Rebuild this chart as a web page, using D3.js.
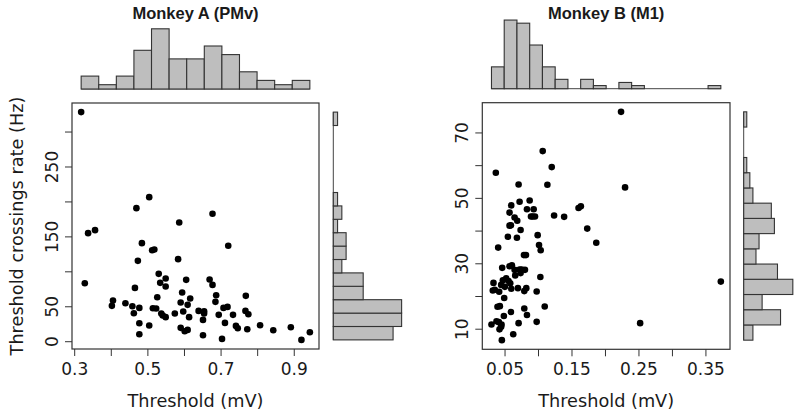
<!DOCTYPE html>
<html><head><meta charset="utf-8">
<script src="https://cdn.jsdelivr.net/npm/d3@7"></script>
<style>body{margin:0;background:#fff}svg{display:block}</style>
</head><body>
<script>
// ---- Data: Monkey A (PMv)
const aX = [0.319,0.329,0.338,0.357,0.403,0.406,0.440,0.459,0.463,0.466,0.470,0.474,0.478,0.478,0.478,0.485,0.505,0.505,0.513,0.519,0.515,0.524,0.527,0.531,0.535,0.538,0.542,0.550,0.550,0.550,0.575,0.584,0.587,0.591,0.591,0.595,0.598,0.602,0.606,0.610,0.610,0.614,0.617,0.640,0.652,0.652,0.655,0.655,0.670,0.678,0.678,0.688,0.686,0.695,0.704,0.708,0.712,0.719,0.721,0.734,0.742,0.747,0.769,0.768,0.773,0.776,0.808,0.844,0.892,0.921,0.944];
const aY = [327.8,83,154.6,158.9,50.6,58.2,54.4,50.1,40.1,76.3,190.4,115,47.7,25.8,10,140.3,22.4,206.1,130.2,131.2,47.2,46.8,63,96.4,83.5,39.6,36.7,34.4,89.7,78.2,39.6,117.4,169.8,55.3,19.1,69.7,42.5,14.3,87.8,52,16.2,34.4,61.1,43.4,30.5,8.6,42.9,39.6,88.3,182.3,80.6,65.8,56.3,37.7,3.3,47.7,26.2,49.1,136.5,37.7,21.9,18.6,64.9,43.4,17.2,38.6,22.9,15.7,20,1.9,12.9];
const aTopCounts  = [3,1,3,9,14,7,7,10,8,4,2,1,2];
const aSideCounts = [14,16,16,7,7,2,3,3,1,2,1,0,0,0,0,0,1];
const aXTicks = [0.3,0.4,0.5,0.6,0.7,0.8,0.9];
const aXLabels = ["0.3","","0.5","","0.7","","0.9"];
const aYTicks = [0,50,100,150,200,250,300];
const aYLabels = ["0","50","","150","","250",""];

// ---- Data: Monkey B (M1)
const bX = [0.224,0.230,0.037,0.107,0.1205,0.114,0.071,0.0725,0.0875,0.0835,0.0935,0.092,0.0955,0.0895,0.124,0.139,0.1605,0.164,0.1735,0.187,0.060,0.0575,0.065,0.069,0.0595,0.0575,0.074,0.055,0.0685,0.0995,0.0405,0.1015,0.104,0.079,0.082,0.0465,0.0575,0.061,0.065,0.0725,0.0755,0.0805,0.066,0.074,0.1035,0.0335,0.0475,0.0525,0.056,0.0585,0.045,0.0505,0.0325,0.0355,0.042,0.060,0.070,0.0825,0.0795,0.098,0.373,0.0495,0.0395,0.043,0.110,0.0595,0.0795,0.0835,0.049,0.038,0.0415,0.0455,0.0305,0.045,0.0425,0.071,0.098,0.2525,0.063,0.046];
const bY = [76.3,53.2,57.7,64.3,59.4,54,54.1,48.8,49.2,46.5,46.5,44.3,44.3,44.3,44.6,44.2,46.9,47.4,40.6,36.3,47.7,45.5,44,43,41.6,41.5,40.2,38.1,37.8,38.6,34.8,35.6,34,32.5,32.5,28.6,29.1,29.4,28,28.1,28.1,28,26.3,27,25.8,24,24.8,25.4,24.6,23.9,23.4,22.8,21.7,21.9,21.3,22.2,22.4,22.4,21.5,21.4,24.4,19.4,16.7,16.9,16.8,15.1,16.2,14.2,13.9,12.3,12,11.3,11.3,10.6,9.8,11.7,12.1,11.7,8.3,6.5];
const bTopCounts  = [7,22,21,14,7,3,0,3,1,0,2,1,0,0,0,0,0,1];
const bSideCounts = [3,12,6,16,11,4,5,10,9,3,2,1,0,0,1];
const bXTicks = [0.05,0.10,0.15,0.20,0.25,0.30,0.35];
const bXLabels = ["0.05","","0.15","","0.25","","0.35"];
const bYTicks = [10,20,30,40,50,60,70];
const bYLabels = ["10","","30","","50","","70"];

const titles = ["Monkey A (PMv)", "Monkey B (M1)"];
const xTitle = "Threshold (mV)";
const yTitle = "Threshold crossings rate (Hz)";

// ---- Drawing
const W = 800, H = 417;
const svg = d3.select("body").append("svg").attr("width", W).attr("height", H);
const FONT = "DejaVu Sans, Liberation Sans, Arial, sans-serif";
const TFONT = "Liberation Sans, Arial, sans-serif";
const INK = "#1a1a1a";

function padExtent(v){ const e = d3.extent(v); const p = (e[1]-e[0])*0.04; return [e[0]-p, e[1]+p]; }

function panel(o){
  const g = svg.append("g");
  const x = d3.scaleLinear().domain(padExtent(o.xs)).range([o.left, o.right]);
  const y = d3.scaleLinear().domain(padExtent(o.ys)).range([o.bottom, o.top]);
  const data = o.xs.map((v,i)=>({x:v, y:o.ys[i]}));

  // x axis
  const xa = g.append("g").attr("transform", `translate(0,${o.bottom})`)
    .call(d3.axisBottom(x).tickValues(o.xTicks).tickSize(7).tickSizeOuter(0)
      .tickFormat((d,i)=>o.xLabels[i]));
  xa.select(".domain").remove();
  xa.selectAll(".tick line").attr("stroke", "#333").attr("stroke-width", 1);
  xa.selectAll(".tick text").attr("y", 26).attr("dy", null)
    .attr("font-family", FONT).attr("font-size", 17).attr("fill", INK);

  // y axis
  const ya = g.append("g").attr("transform", `translate(${o.left},0)`)
    .call(d3.axisLeft(y).tickValues(o.yTicks).tickSize(7).tickSizeOuter(0)
      .tickFormat((d,i)=>o.yLabels[i]));
  ya.select(".domain").remove();
  ya.selectAll(".tick line").attr("stroke", "#333").attr("stroke-width", 1);
  ya.selectAll(".tick text").attr("x", 0).attr("dy", null).attr("y", 0)
    .attr("transform", "translate(-14.5,0) rotate(-90)")
    .attr("text-anchor", "middle")
    .attr("font-family", FONT).attr("font-size", 17).attr("fill", INK);

  // box
  g.append("rect").attr("x", o.left).attr("y", o.top)
    .attr("width", o.right-o.left).attr("height", o.bottom-o.top)
    .attr("fill", "none").attr("stroke", "#333").attr("stroke-width", 1.2);

  // points
  g.append("g").selectAll("circle").data(data).join("circle")
    .attr("cx", d=>x(d.x)).attr("cy", d=>y(d.y)).attr("r", 3.3).attr("fill", "#000");

  // top histogram
  const xe = d3.extent(o.xs);
  const nT = o.topCounts.length, bwT = (xe[1]-xe[0])/nT;
  const hT = d3.scaleLinear().domain([0,1]).range([0, o.topUnit]);
  const topBins = o.topCounts.map((c,i)=>({x0: xe[0]+i*bwT, x1: xe[0]+(i+1)*bwT, c}));
  g.append("line").attr("x1", x(xe[0])).attr("x2", x(xe[1]))
    .attr("y1", o.topBase).attr("y2", o.topBase).attr("stroke", "#444").attr("stroke-width", 1);
  g.append("g").selectAll("rect").data(topBins.filter(b=>b.c>0)).join("rect")
    .attr("x", b=>x(b.x0)).attr("width", b=>x(b.x1)-x(b.x0))
    .attr("y", b=>o.topBase-hT(b.c)).attr("height", b=>hT(b.c))
    .attr("fill", "#bebebe").attr("stroke", "#333").attr("stroke-width", 1.1);

  // side histogram
  const ye = d3.extent(o.ys);
  const nS = o.sideCounts.length, bwS = (ye[1]-ye[0])/nS;
  const wS = d3.scaleLinear().domain([0,1]).range([0, o.sideUnit]);
  const sideBins = o.sideCounts.map((c,i)=>({y0: ye[0]+i*bwS, y1: ye[0]+(i+1)*bwS, c}));
  g.append("line").attr("x1", o.sideBase).attr("x2", o.sideBase)
    .attr("y1", y(ye[0])).attr("y2", y(ye[1])).attr("stroke", "#444").attr("stroke-width", 1);
  g.append("g").selectAll("rect").data(sideBins.filter(b=>b.c>0)).join("rect")
    .attr("x", o.sideBase).attr("width", b=>wS(b.c))
    .attr("y", b=>y(b.y1)).attr("height", b=>y(b.y0)-y(b.y1))
    .attr("fill", "#bebebe").attr("stroke", "#333").attr("stroke-width", 1.1);

  // title
  g.append("text").attr("x", (o.left+o.right)/2).attr("y", 18.5)
    .attr("text-anchor", "middle").attr("font-family", TFONT).attr("font-weight", "bold")
    .attr("font-size", 16.5).attr("fill", INK).text(o.title);

  // x title
  g.append("text").attr("x", (o.left+o.right)/2).attr("y", 406.5)
    .attr("text-anchor", "middle").attr("font-family", FONT)
    .attr("font-size", 17.7).attr("fill", INK).text(xTitle);

  if (o.yTitle){
    g.append("text").attr("transform", `translate(22.7,${(o.top+o.bottom)/2}) rotate(-90)`)
      .attr("text-anchor", "middle").attr("font-family", FONT)
      .attr("font-size", 17.7).attr("fill", INK).text(o.yTitle);
  }
}

panel({xs:aX, ys:aY, left:72, right:319, top:103, bottom:349,
  xTicks:aXTicks, xLabels:aXLabels, yTicks:aYTicks, yLabels:aYLabels,
  topCounts:aTopCounts, topBase:89, topUnit:4.3,
  sideCounts:aSideCounts, sideBase:333.3, sideUnit:4.27,
  title:titles[0], yTitle:yTitle});

panel({xs:bX, ys:bY, left:482.3, right:730, top:102.7, bottom:349.3,
  xTicks:bXTicks, xLabels:bXLabels, yTicks:bYTicks, yLabels:bYLabels,
  topCounts:bTopCounts, topBase:88.7, topUnit:3.12,
  sideCounts:bSideCounts, sideBase:743.7, sideUnit:3.07,
  title:titles[1], yTitle:null});
</script>
</body></html>
